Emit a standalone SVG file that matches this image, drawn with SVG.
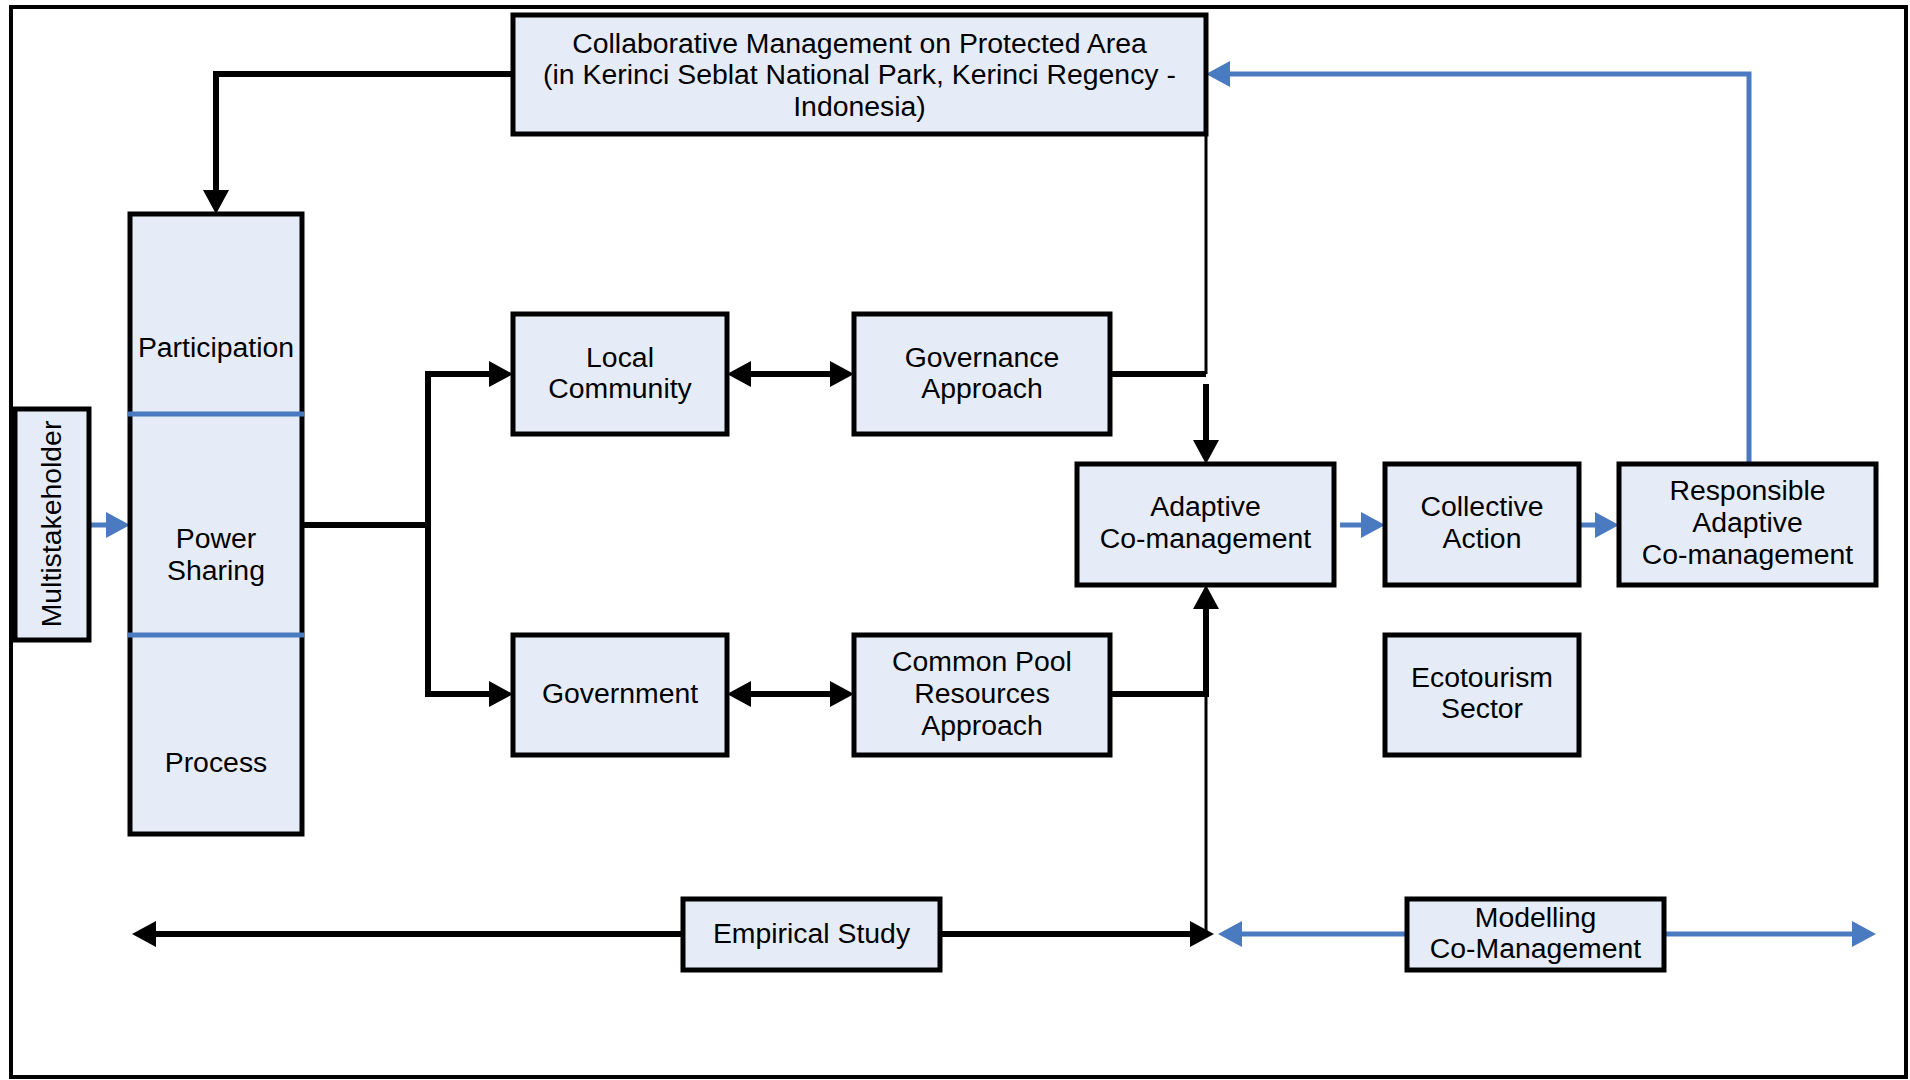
<svg xmlns="http://www.w3.org/2000/svg" width="1910" height="1080" viewBox="0 0 1910 1080">
<style>
.box{fill:#e6ecf7;stroke:#000;stroke-width:5}
.t{font-family:"Liberation Sans",Arial,sans-serif;font-size:28.4px;fill:#000;text-anchor:middle}
.k{fill:none;stroke:#000;stroke-width:6}
.thin{fill:none;stroke:#000;stroke-width:3}
.b{fill:none;stroke:#4a7ac0;stroke-width:5}
</style>
<defs>
<marker id="ah" viewBox="0 0 24 26" refX="2" refY="13" markerWidth="24" markerHeight="26" markerUnits="userSpaceOnUse" orient="auto-start-reverse"><path d="M0,0 L24,13 L0,26 z" fill="#000"/></marker>
<marker id="ahb" viewBox="0 0 24 26" refX="2" refY="13" markerWidth="24" markerHeight="26" markerUnits="userSpaceOnUse" orient="auto-start-reverse"><path d="M0,0 L24,13 L0,26 z" fill="#4a7ac0"/></marker>
</defs>
<rect x="0" y="0" width="1910" height="1080" fill="#fff"/>
<rect x="11" y="7" width="1895" height="1070" fill="none" stroke="#000" stroke-width="4"/>

<g id="connectors">
<path class="k" d="M513,74 H216 V192" marker-end="url(#ah)"/>
<path class="b" d="M89,525 H108" marker-end="url(#ahb)"/>
<path class="k" d="M302,525 H428"/>
<path class="k" d="M491,374 H428 V694 H491" marker-start="url(#ah)" marker-end="url(#ah)"/>
<path class="k" d="M749,374 H832" marker-start="url(#ah)" marker-end="url(#ah)"/>
<path class="k" d="M749,694 H832" marker-start="url(#ah)" marker-end="url(#ah)"/>
<path class="thin" d="M1206,134 V374"/>
<path class="k" d="M1110,374 H1206"/>
<path class="k" d="M1206,384 V442" marker-end="url(#ah)"/>
<path class="k" d="M1110,694 H1206"/>
<path class="k" d="M1206,697 V607" marker-end="url(#ah)"/>
<path class="thin" d="M1206,694 V934"/>
<path class="k" d="M683,934 H154" marker-end="url(#ah)"/>
<path class="k" d="M940,934 H1192" marker-end="url(#ah)"/>
<path class="b" d="M1407,934 H1240" marker-end="url(#ahb)"/>
<path class="b" d="M1664,934 H1854" marker-end="url(#ahb)"/>
<path class="b" d="M1340,525 H1363" marker-end="url(#ahb)"/>
<path class="b" d="M1581,525 H1597" marker-end="url(#ahb)"/>
<path class="b" d="M1749,464 V74 H1228" marker-end="url(#ahb)"/>
</g>

<g id="collab">
<rect class="box" x="513" y="15" width="693" height="119"/>
<text class="t" x="859.5" y="53">Collaborative Management on Protected Area</text>
<text class="t" x="859.5" y="84">(in Kerinci Seblat National Park, Kerinci Regency -</text>
<text class="t" x="859.5" y="116">Indonesia)</text>
</g>

<g id="multistakeholder">
<rect class="box" x="15" y="409" width="74" height="231"/>
<text class="t" transform="translate(61,524) rotate(-90)">Multistakeholder</text>
</g>

<g id="pillar">
<rect class="box" x="130" y="214" width="172" height="620"/>
<path class="b" d="M128,414 H304 M128,635 H304"/>
<text class="t" x="216" y="357">Participation</text>
<text class="t" x="216" y="548">Power</text>
<text class="t" x="216" y="580">Sharing</text>
<text class="t" x="216" y="772">Process</text>
</g>

<g id="local">
<rect class="box" x="513" y="314" width="214" height="120"/>
<text class="t" x="620" y="367">Local</text>
<text class="t" x="620" y="398">Community</text>
</g>

<g id="governance">
<rect class="box" x="854" y="314" width="256" height="120"/>
<text class="t" x="982" y="367">Governance</text>
<text class="t" x="982" y="398">Approach</text>
</g>

<g id="government">
<rect class="box" x="513" y="635" width="214" height="120"/>
<text class="t" x="620" y="703">Government</text>
</g>

<g id="cpr">
<rect class="box" x="854" y="635" width="256" height="120"/>
<text class="t" x="982" y="671">Common Pool</text>
<text class="t" x="982" y="703">Resources</text>
<text class="t" x="982" y="735">Approach</text>
</g>

<g id="adaptive">
<rect class="box" x="1077" y="464" width="257" height="121"/>
<text class="t" x="1205.5" y="516">Adaptive</text>
<text class="t" x="1205.5" y="548">Co-management</text>
</g>

<g id="collective">
<rect class="box" x="1385" y="464" width="194" height="121"/>
<text class="t" x="1482" y="516">Collective</text>
<text class="t" x="1482" y="548">Action</text>
</g>

<g id="responsible">
<rect class="box" x="1619" y="464" width="257" height="121"/>
<text class="t" x="1747.5" y="500">Responsible</text>
<text class="t" x="1747.5" y="532">Adaptive</text>
<text class="t" x="1747.5" y="564">Co-management</text>
</g>

<g id="ecotourism">
<rect class="box" x="1385" y="635" width="194" height="120"/>
<text class="t" x="1482" y="687">Ecotourism</text>
<text class="t" x="1482" y="718">Sector</text>
</g>

<g id="empirical">
<rect class="box" x="683" y="899" width="257" height="71"/>
<text class="t" x="811.5" y="943">Empirical Study</text>
</g>

<g id="modelling">
<rect class="box" x="1407" y="899" width="257" height="71"/>
<text class="t" x="1535.5" y="927">Modelling</text>
<text class="t" x="1535.5" y="958">Co-Management</text>
</g>
</svg>
